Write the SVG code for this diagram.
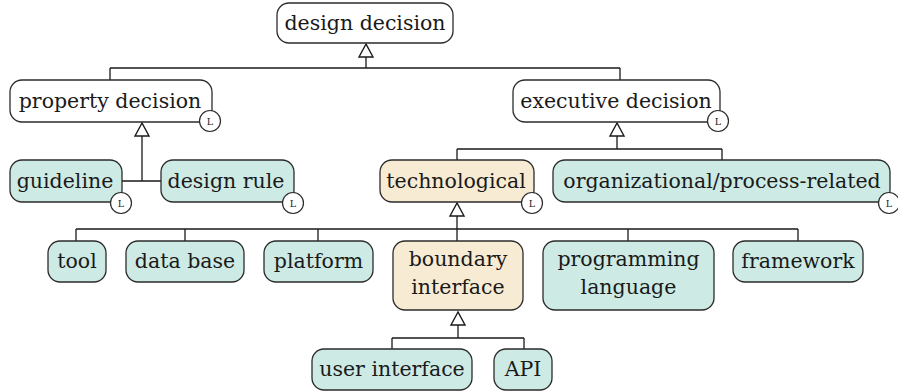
<svg xmlns="http://www.w3.org/2000/svg" width="898" height="392" viewBox="0 0 898 392">
<style>
.box{stroke:#2b2b2b;stroke-width:1.3;}
.w{fill:#ffffff;}
.t{fill:#cdeae5;}
.b{fill:#f8ebd3;}
.lbl{font-family:'DejaVu Serif','Liberation Serif',serif;font-size:20.5px;fill:#1a1a1a;text-anchor:middle;}
.lc{fill:#ffffff;stroke:#2b2b2b;stroke-width:1.2;}
.lt{font-family:'DejaVu Serif','Liberation Serif',serif;font-size:9.5px;fill:#1a1a1a;text-anchor:middle;}
.ln{fill:none;stroke:#1a1a1a;stroke-width:1.3;}
.ar{fill:#ffffff;stroke:#1a1a1a;stroke-width:1.4;}
</style>
<g id="connectors">
<path class="ln" d="M366,57 V68 M110,68 H620 M110,68 V80 M620,68 V80"/>
<polygon class="ar" points="366,44 359,57 373,57"/>
<path class="ln" d="M142,136 V181 M122,181 H161"/>
<polygon class="ar" points="142,123 135,136 149,136"/>
<path class="ln" d="M617,136 V149 M457,149 H722 M457,149 V160 M722,149 V160"/>
<polygon class="ar" points="617,123 610,136 624,136"/>
<path class="ln" d="M457,216 V241 M76,229 H798 M76,229 V241 M185,229 V241 M318,229 V241 M628,229 V241 M798,229 V241"/>
<polygon class="ar" points="457,203 450,216 464,216"/>
<path class="ln" d="M458,325 V338 M392,338 H524 M392,338 V349 M524,338 V349"/>
<polygon class="ar" points="458,312 451,325 465,325"/>
</g>
<g id="design-decision">
<rect class="box w" x="277" y="3" width="176" height="40" rx="12"/>
<text class="lbl" x="365" y="29.5">design decision</text>
</g>
<g id="property-decision">
<rect class="box w" x="10" y="80" width="202" height="42" rx="12"/>
<text class="lbl" x="110" y="107.5">property decision</text>
<circle class="lc" cx="210" cy="121" r="10.5"/><text class="lt" x="210" y="124.5">L</text>
</g>
<g id="executive-decision">
<rect class="box w" x="513" y="80" width="207" height="42" rx="12"/>
<text class="lbl" x="616" y="107.5">executive decision</text>
<circle class="lc" cx="718" cy="121" r="10.5"/><text class="lt" x="718" y="124.5">L</text>
</g>
<g id="guideline">
<rect class="box t" x="10" y="160" width="112" height="42" rx="12"/>
<text class="lbl" x="65" y="187.5">guideline</text>
<circle class="lc" cx="121" cy="203" r="10.5"/><text class="lt" x="121" y="206.5">L</text>
</g>
<g id="design-rule">
<rect class="box t" x="161" y="160" width="133" height="42" rx="12"/>
<text class="lbl" x="226" y="187.5">design rule</text>
<circle class="lc" cx="293" cy="203" r="10.5"/><text class="lt" x="293" y="206.5">L</text>
</g>
<g id="technological">
<rect class="box b" x="380" y="160" width="154" height="42" rx="12"/>
<text class="lbl" x="456" y="187.5">technological</text>
<circle class="lc" cx="532" cy="203" r="10.5"/><text class="lt" x="532" y="206.5">L</text>
</g>
<g id="organizational">
<rect class="box t" x="553" y="160" width="337" height="42" rx="12"/>
<text class="lbl" x="722" y="187.5">organizational/process-related</text>
<circle class="lc" cx="889" cy="203" r="10.5"/><text class="lt" x="889" y="206.5">L</text>
</g>
<g id="tool">
<rect class="box t" x="48" y="241" width="58" height="41" rx="12"/>
<text class="lbl" x="77" y="267.5">tool</text>
</g>
<g id="data-base">
<rect class="box t" x="126" y="241" width="118" height="41" rx="12"/>
<text class="lbl" x="185" y="267.5">data base</text>
</g>
<g id="platform">
<rect class="box t" x="264" y="241" width="109" height="41" rx="12"/>
<text class="lbl" x="318.5" y="267.5">platform</text>
</g>
<g id="boundary-interface">
<rect class="box b" x="393" y="241" width="130" height="69" rx="12"/>
<text class="lbl" x="458" y="266">boundary</text>
<text class="lbl" x="458" y="293.5">interface</text>
</g>
<g id="programming-language">
<rect class="box t" x="543" y="241" width="171" height="69" rx="12"/>
<text class="lbl" x="628.5" y="266">programming</text>
<text class="lbl" x="628.5" y="293.5">language</text>
</g>
<g id="framework">
<rect class="box t" x="733" y="241" width="130" height="41" rx="12"/>
<text class="lbl" x="798" y="267.5">framework</text>
</g>
<g id="user-interface">
<rect class="box t" x="312" y="349" width="160" height="41" rx="12"/>
<text class="lbl" x="392" y="375.5">user interface</text>
</g>
<g id="api">
<rect class="box t" x="494" y="349" width="58" height="41" rx="12"/>
<text class="lbl" x="523" y="375.5">API</text>
</g>
</svg>
